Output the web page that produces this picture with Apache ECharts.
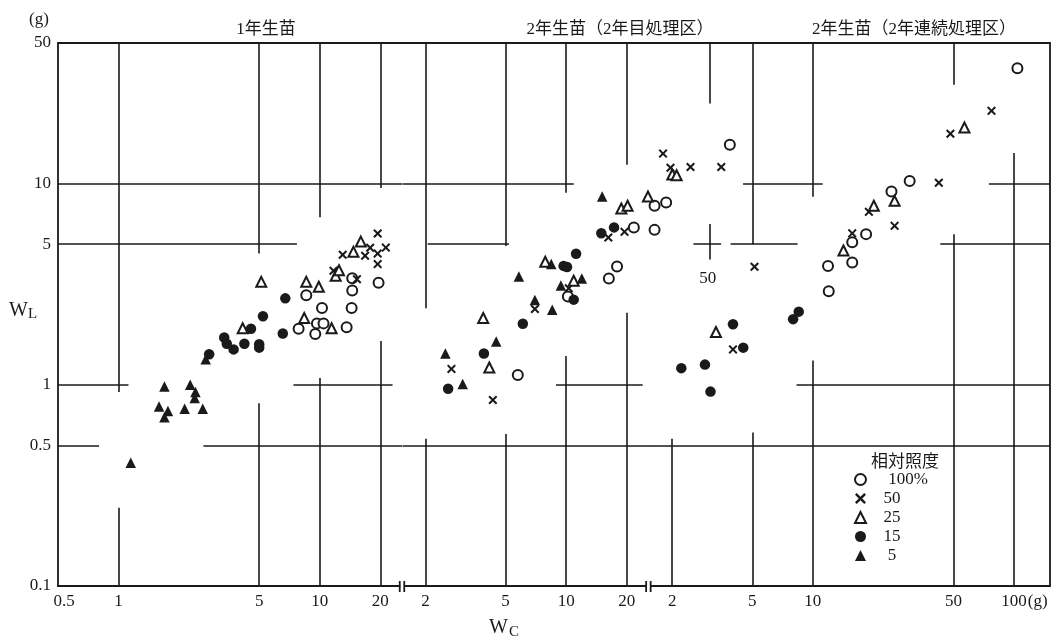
<!DOCTYPE html>
<html>
<head>
<meta charset="utf-8">
<script src="https://cdn.jsdelivr.net/npm/echarts@6/dist/echarts.min.js"></script>
<style>
  html, body { margin: 0; background: #fff; }
  #chart { width: 1063px; height: 640px; }
</style>
</head>
<body>
<div id="chart"></div>
<script>
// ---- data (WC, WL in grams) ----
const PANEL_TITLES = ['1年生苗', '2年生苗（2年目処理区）', '2年生苗（2年連続処理区）']
const LIGHT_LEVELS = ['100%', '50', '25', '15', '5']
const LEGEND_TITLE = '相対照度'

const X_TICKS = [[0.5, 1, 5, 10, 20], [2, 5, 10, 20], [2, 5, 10, 50, 100]]
const Y_TICKS = [0.1, 0.5, 1, 5, 10, 50]

// the three panels share one plot box and one decade width, only the left end differs
const X_MIN = [0.5, 0.0298, 0.00177]
const X_MAX = [42600, 2540, 151]
const Y_MIN = 0.1
const Y_MAX = 50
const BREAK_AT = [25.7, 25.7] // where panel 1 / panel 2 stop on their own axes

// panel 1: 1年生苗
const p1_100 = [[7.85, 1.9], [8.57, 2.79], [9.5, 1.79], [9.68, 2.02], [10.26, 2.41], [10.44, 2.02], [13.6, 1.93], [14.4, 2.41], [14.5, 2.94], [14.5, 3.39], [19.6, 3.22]]
const p1_50 = [[11.7, 3.69], [13.0, 4.43], [15.3, 3.35], [16.8, 4.38], [17.8, 4.8], [19.4, 5.65], [21.3, 4.81], [19.4, 4.49], [19.4, 3.98]]
const p1_25 = [[4.14, 1.91], [5.12, 3.25], [8.37, 2.15], [8.57, 3.25], [9.89, 3.07], [11.45, 1.91], [12.0, 3.48], [12.46, 3.71], [14.7, 4.58], [16.0, 5.15]]
const p1_15 = [[2.82, 1.42], [3.35, 1.72], [3.45, 1.6], [3.73, 1.5], [4.22, 1.6], [4.55, 1.9], [5.0, 1.59], [5.0, 1.53], [5.22, 2.19], [6.55, 1.8], [6.74, 2.69]]
const p1_5 = [[1.15, 0.41], [1.59, 0.78], [1.69, 0.98], [1.69, 0.69], [1.76, 0.74], [2.13, 0.76], [2.27, 1.0], [2.39, 0.86], [2.41, 0.92], [2.62, 0.76], [2.71, 1.34]]

// panel 2: 2年生苗（2年目処理区）
const p2_100 = [[5.75, 1.12], [10.2, 2.75], [16.3, 3.38], [17.9, 3.87], [21.7, 6.05], [27.5, 5.89], [27.5, 7.76], [31.4, 8.05], [65.1, 15.6]]
const p2_50 = [[2.69, 1.2], [4.32, 0.84], [6.99, 2.38], [10.3, 3.02], [16.2, 5.4], [19.5, 5.76], [30.3, 14.1], [33.0, 12.0], [41.5, 12.1], [59.0, 12.1]]
const p2_25 = [[3.87, 2.15], [4.15, 1.22], [7.87, 4.09], [10.9, 3.29], [18.8, 7.52], [20.2, 7.76], [25.5, 8.63], [33.7, 11.1], [35.4, 11.0]]
const p2_15 = [[2.59, 0.955], [3.9, 1.43], [6.09, 2.01], [9.71, 3.9], [10.1, 3.85], [10.9, 2.65], [11.2, 4.48], [14.95, 5.67], [17.3, 6.06]]
const p2_5 = [[2.51, 1.43], [3.06, 1.01], [4.49, 1.64], [5.82, 3.45], [6.99, 2.64], [8.43, 3.98], [8.53, 2.36], [9.41, 3.12], [11.96, 3.38], [15.1, 8.63]]

// panel 3: 2年生苗（2年連続処理区）
const p3_100 = [[11.9, 3.9], [12.0, 2.92], [15.7, 4.05], [15.7, 5.11], [18.4, 5.61], [24.6, 9.14], [30.3, 10.3], [104, 37.5]]
const p3_50 = [[4.01, 1.5], [5.13, 3.86], [15.7, 5.66], [19.0, 7.24], [25.5, 6.17], [42.3, 10.1], [48.3, 17.7], [77.3, 23.0]]
const p3_25 = [[3.3, 1.83], [14.2, 4.65], [20.1, 7.76], [25.5, 8.21], [56.7, 19.0]]
const p3_15 = [[2.22, 1.21], [2.91, 1.26], [3.1, 0.925], [4.01, 2.0], [4.51, 1.53], [7.98, 2.12], [8.51, 2.31]]
const p3_5 = []

// broken grid lines of the printed figure: [panel, y, xFrom, xTo] and [panel, x, yFrom, yTo]
const H_SEGS = [
  [0, 10, 0.5, 25.7], [0, 5, 0.5, 7.7], [0, 1, 0.5, 1.12], [0, 1, 7.4, 23], [0, 0.5, 0.5, 0.8], [0, 0.5, 2.64, 25.7],
  [1, 10, 1.54, 10.9], [1, 5, 2.05, 5.2], [1, 1, 8.9, 24], [1, 0.5, 1.54, 25.7],
  [2, 10, 4.5, 11.2], [2, 10, 75, 151], [2, 5, 2.55, 3.5], [2, 5, 3.9, 8.4], [2, 5, 43, 151], [2, 1, 8.3, 151], [2, 0.5, 1.52, 151],
]
const V_SEGS = [
  [0, 1, 0.92, 50], [0, 1, 0.1, 0.245], [0, 5, 4.5, 50], [0, 5, 0.1, 0.81], [0, 10, 6.8, 50], [0, 10, 0.1, 1.08], [0, 20, 9.5, 50], [0, 20, 0.1, 1.65],
  [1, 2, 2.4, 50], [1, 2, 0.1, 0.54], [1, 5, 4.9, 50], [1, 5, 0.1, 0.57], [1, 10, 9.0, 50], [1, 10, 0.1, 1.39], [1, 20, 12.4, 50], [1, 20, 0.1, 2.28],
  [2, 3.06, 25, 50], [2, 3.06, 4.2, 6.3], [2, 2, 0.1, 0.54], [2, 5, 5.0, 50], [2, 5, 0.1, 0.58], [2, 10, 8.6, 50], [2, 10, 0.1, 1.32], [2, 50, 31, 50], [2, 50, 0.1, 5.6], [2, 100, 0.1, 14.2],
]

// ---- chart ----
const SERIF = '"Liberation Serif", "DejaVu Serif", "Noto Sans CJK JP", serif'
const INK = '#1a1a1a'
const GRID = { left: 58, right: 13, top: 43, bottom: 54 }

const levelStyle = {
  '100%': { symbol: 'emptyCircle', size: 10 },
  '50': { symbol: 'path://M1.6,0L5,3.4L8.4,0L10,1.6L6.6,5L10,8.4L8.4,10L5,6.6L1.6,10L0,8.4L3.4,5L0,1.6Z', size: 9 },
  '25': { symbol: 'emptyTriangle', size: 10 },
  '15': { symbol: 'circle', size: 10.5 },
  '5': { symbol: 'triangle', size: 10.5 },
}
const panelData = [
  { '100%': p1_100, '50': p1_50, '25': p1_25, '15': p1_15, '5': p1_5 },
  { '100%': p2_100, '50': p2_50, '25': p2_25, '15': p2_15, '5': p2_5 },
  { '100%': p3_100, '50': p3_50, '25': p3_25, '15': p3_15, '5': p3_5 },
]

const round = (v) => Math.round(v * 100) / 100
const xLabel = (v) => {
  const r = round(v)
  if (r === 0.5) return '{q| }0.5'
  if (r === 100) return '{h| }100{g|(g)}'
  return String(r)
}

const chart = echarts.init(document.getElementById('chart'), null, { renderer: 'canvas' })

const grids = [0, 1, 2].map((i) => ({
  ...GRID,
  show: i === 0,
  borderColor: INK,
  borderWidth: 1.8,
  backgroundColor: 'transparent',
}))

const xAxes = [0, 1, 2].map((i) => ({
  type: 'log',
  logBase: 10,
  gridIndex: i,
  min: X_MIN[i],
  max: X_MAX[i],
  axisLine: { show: false },
  axisTick: { show: false },
  splitLine: { show: false },
  axisLabel: {
    customValues: X_TICKS[i],
    formatter: xLabel,
    color: INK,
    fontFamily: SERIF,
    fontSize: 17,
    margin: 7,
    rich: {
      q: { width: 12 },
      h: { width: 22 },
      g: { width: 22, align: 'left', fontFamily: SERIF, fontSize: 17, color: INK },
    },
  },
}))

const yAxes = [0, 1, 2].map((i) => ({
  type: 'log',
  logBase: 10,
  gridIndex: i,
  min: Y_MIN,
  max: Y_MAX,
  axisLine: { show: false },
  axisTick: { show: false },
  splitLine: { show: false },
  axisLabel: {
    show: i === 0,
    customValues: Y_TICKS,
    formatter: (v) => String(Math.round(v * 10) / 10),
    color: INK,
    fontFamily: SERIF,
    fontSize: 17,
    margin: 7,
  },
}))

const series = []
for (let p = 0; p < 3; p++) {
  series.push({
    type: 'lines',
    coordinateSystem: 'cartesian2d',
    xAxisIndex: p,
    yAxisIndex: p,
    silent: true,
    z: 1,
    lineStyle: { color: INK, width: 1.6, opacity: 1 },
    data: H_SEGS.filter((s) => s[0] === p).map((s) => ({ coords: [[s[2], s[1]], [s[3], s[1]]] }))
      .concat(V_SEGS.filter((s) => s[0] === p).map((s) => ({ coords: [[s[1], s[2]], [s[1], s[3]]] }))),
  })
  for (const lv of LIGHT_LEVELS) {
    series.push({
      type: 'scatter',
      name: lv,
      xAxisIndex: p,
      yAxisIndex: p,
      z: 3,
      symbol: levelStyle[lv].symbol,
      symbolSize: levelStyle[lv].size,
      itemStyle: { color: INK, opacity: 1 },
      data: panelData[p][lv],
    })
  }
}

chart.setOption({
  animation: false,
  backgroundColor: '#fff',
  title: [
    { text: PANEL_TITLES[0], left: 261, top: 16, textAlign: 'center' },
    { text: PANEL_TITLES[1], left: 615, top: 16, textAlign: 'center' },
    { text: PANEL_TITLES[2], left: 909, top: 16, textAlign: 'center' },
    { text: LEGEND_TITLE, left: 900, top: 449, textAlign: 'center' },
  ].map((t) => ({ ...t, textStyle: { fontFamily: SERIF, fontSize: 17, fontWeight: 'normal', color: INK } })),
  legend: {
    data: LIGHT_LEVELS,
    orient: 'vertical',
    left: 849,
    top: 466,
    itemWidth: 11,
    itemHeight: 11,
    itemGap: 2,
    selectedMode: false,
    formatter: (name) => (name === '100%' ? '{m|100%}' : `{n|${name}}{p| }`),
    textStyle: {
      color: INK,
      rich: {
        m: { width: 57, align: 'right', fontFamily: SERIF, fontSize: 17, color: INK, lineHeight: 18 },
        n: { width: 42, align: 'right', fontFamily: SERIF, fontSize: 17, color: INK, lineHeight: 18 },
        p: { width: 15, align: 'left', fontFamily: SERIF, fontSize: 17, color: INK, lineHeight: 18 },
      },
    },
  },
  grid: grids,
  xAxis: xAxes,
  yAxis: yAxes,
  series,
})

// decorations that hang off the axes: break marks, stray "50", axis names
const yBottom = chart.convertToPixel({ yAxisIndex: 0 }, Y_MIN)
const graphic = []
BREAK_AT.forEach((v, i) => {
  const bx = chart.convertToPixel({ xAxisIndex: i }, v)
  graphic.push(
    { type: 'rect', z: 100, shape: { x: bx - 2, y: yBottom - 2, width: 4, height: 4 }, style: { fill: '#fff' } },
    { type: 'line', z: 101, shape: { x1: bx - 2.5, y1: yBottom - 5, x2: bx - 2.5, y2: yBottom + 6 }, style: { stroke: INK, lineWidth: 1.8 } },
    { type: 'line', z: 101, shape: { x1: bx + 2, y1: yBottom - 5, x2: bx + 2, y2: yBottom + 6 }, style: { stroke: INK, lineWidth: 1.8 } },
  )
})
const stray = chart.convertToPixel({ gridIndex: 2 }, [3.0, 3.36])
graphic.push(
  { type: 'text', z: 100, x: stray[0], y: stray[1], style: { text: '50', font: `17px ${SERIF}`, fill: INK, align: 'center', verticalAlign: 'middle' } },
  { type: 'text', z: 100, x: 39, y: 20, style: { text: '(g)', font: `17px ${SERIF}`, fill: INK, align: 'center', verticalAlign: 'middle' } },
  { type: 'text', z: 100, x: 9, y: 301, style: { text: 'W', font: `20px ${SERIF}`, fill: INK } },
  { type: 'text', z: 100, x: 28, y: 307, style: { text: 'L', font: `15px ${SERIF}`, fill: INK } },
  { type: 'text', z: 100, x: 489, y: 618, style: { text: 'W', font: `20px ${SERIF}`, fill: INK } },
  { type: 'text', z: 100, x: 509, y: 625, style: { text: 'C', font: `15px ${SERIF}`, fill: INK } },
)
chart.setOption({ graphic })
</script>
</body>
</html>
